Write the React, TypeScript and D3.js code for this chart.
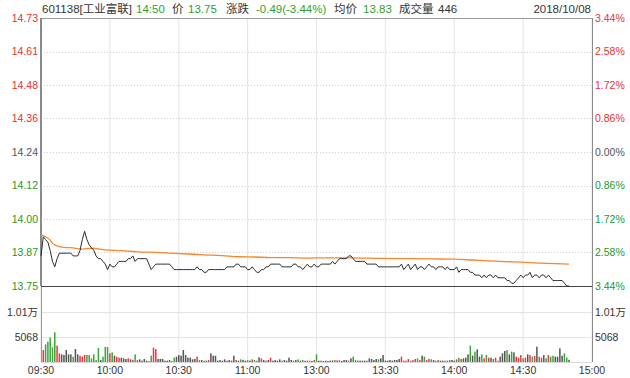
import React from "react";
import * as d3 from "d3";

// ---------- data ----------
const timeLabels = ["09:30", "10:00", "10:30", "11:00", "13:00", "13:30", "14:00", "14:30", "15:00"];
const priceLabels = ["14.73", "14.61", "14.48", "14.36", "14.24", "14.12", "14.00", "13.87", "13.75"];
const pctLabels = ["3.44%", "2.58%", "1.72%", "0.86%", "0.00%", "0.86%", "1.72%", "2.58%", "3.44%"];
const volTickValues = [10136, 5068];
const volTickLabels = ["1.01万", "5068"];
const prevClose = 14.24;
const priceMin = 13.75;
const priceMax = 14.73;

const prices = [
  13.86, 13.93, 13.92, 13.91, 13.88, 13.84, 13.82, 13.85, 13.87, 13.87,
  13.87, 13.87, 13.87, 13.87, 13.86, 13.86, 13.86, 13.88, 13.92, 13.95,
  13.92, 13.90, 13.89, 13.88, 13.86, 13.85, 13.85, 13.84, 13.83, 13.81,
  13.83, 13.82, 13.82, 13.83, 13.84, 13.84, 13.84, 13.84, 13.85, 13.85,
  13.86, 13.84, 13.85, 13.85, 13.85, 13.85, 13.85, 13.83, 13.81, 13.82,
  13.83, 13.83, 13.83, 13.83, 13.83, 13.83, 13.83, 13.82, 13.81, 13.81,
  13.81, 13.81, 13.81, 13.81, 13.81, 13.81, 13.81, 13.81, 13.82, 13.81,
  13.81, 13.80, 13.80, 13.81, 13.81, 13.81, 13.81, 13.81, 13.81, 13.81,
  13.81, 13.82, 13.82, 13.82, 13.82, 13.83, 13.83, 13.82, 13.82, 13.82,
  13.81, 13.81, 13.82, 13.81, 13.80, 13.80, 13.81, 13.81, 13.82, 13.82,
  13.83, 13.83, 13.83, 13.83, 13.83, 13.82, 13.82, 13.82, 13.82, 13.82,
  13.83, 13.83, 13.82, 13.82, 13.81, 13.82, 13.83, 13.82, 13.82, 13.83,
  13.82, 13.82, 13.83, 13.83, 13.83, 13.83, 13.83, 13.84, 13.83, 13.84,
  13.85, 13.85, 13.85, 13.85, 13.86, 13.86, 13.85, 13.84, 13.84, 13.84,
  13.84, 13.84, 13.83, 13.83, 13.83, 13.83, 13.83, 13.82, 13.82, 13.82,
  13.82, 13.82, 13.82, 13.82, 13.82, 13.82, 13.82, 13.83, 13.81, 13.82,
  13.83, 13.81, 13.82, 13.83, 13.81, 13.82, 13.82, 13.81, 13.82, 13.83,
  13.82, 13.82, 13.81, 13.82, 13.82, 13.82, 13.81, 13.82, 13.81, 13.81,
  13.81, 13.82, 13.80, 13.81, 13.81, 13.81, 13.81, 13.80, 13.80, 13.79,
  13.79, 13.79, 13.78, 13.79, 13.78, 13.79, 13.79, 13.78, 13.79, 13.78,
  13.78, 13.78, 13.78, 13.77, 13.77, 13.76, 13.76, 13.77, 13.78, 13.79,
  13.78, 13.79, 13.79, 13.80, 13.78, 13.79, 13.79, 13.78, 13.79, 13.79,
  13.78, 13.79, 13.78, 13.77, 13.77, 13.77, 13.77, 13.77, 13.76, 13.75,
  13.75,
];

const avgMinutes = [0, 2, 4, 5, 7, 10, 13, 18, 22, 28, 35, 42, 50, 57, 64, 71, 79, 86, 93, 100, 108, 116, 125, 134, 148, 158, 170, 180, 188, 195, 202, 209, 217, 224, 230];
const avgValues = [13.937, 13.930, 13.918, 13.906, 13.897, 13.891, 13.890, 13.885, 13.888, 13.882, 13.879, 13.875, 13.873, 13.870, 13.867, 13.864, 13.861, 13.857, 13.856, 13.854, 13.854, 13.852, 13.853, 13.853, 13.851, 13.850, 13.849, 13.848, 13.845, 13.842, 13.839, 13.837, 13.834, 13.832, 13.830];

const volumes = [
  32000, 2430, 3580, 4120, 4930, 2970, 6010, 3310, 1760, 1550,
  1420, 2430, 1550, 1550, 1080, 2630, 1550, 1280, 1080, 1420,
  1420, 1420, 740, 1550, 400, 2840, 400, 1080, 3040, 3040,
  1760, 1960, 1280, 1080, 880, 880, 740, 610, 740, 540,
  400, 1550, 400, 540, 270, 610, 270, 200, 1280, 2900,
  2630, 610, 610, 610, 270, 270, 400, 200, 880, 1080,
  1420, 1280, 2430, 1420, 880, 880, 540, 610, 1080, 400,
  400, 270, 270, 400, 1760, 1280, 1280, 270, 400, 270,
  540, 270, 400, 270, 1280, 400, 270, 540, 400, 270,
  400, 270, 540, 400, 270, 950, 700, 400, 270, 400,
  880, 270, 400, 270, 540, 270, 400, 270, 880, 400,
  270, 400, 540, 270, 400, 270, 270, 270, 200, 400,
  1550, 270, 270, 200, 270, 200, 270, 340, 400, 340,
  340, 200, 400, 400, 270, 740, 1080, 400, 270, 270,
  270, 270, 270, 740, 610, 400, 610, 540, 740, 1420,
  270, 270, 400, 270, 400, 400, 610, 1080, 270, 270,
  610, 270, 400, 610, 740, 400, 1280, 1080, 400, 610,
  540, 400, 270, 400, 270, 270, 270, 270, 400, 400,
  270, 540, 880, 610, 740, 880, 1550, 3310, 1280, 2100,
  2570, 1080, 1550, 740, 1420, 880, 880, 610, 880, 270,
  1080, 1760, 2230, 2430, 1550, 2100, 1960, 1080, 880, 1420,
  740, 880, 1550, 1420, 1080, 1220, 3110, 1080, 880, 1420,
  740, 1420, 1080, 1280, 1080, 1080, 2770, 1280, 1760, 900,
  446,
];

const headerParts = [
  { text: "601138[工业富联]", kind: "dark", x: 42 },
  { text: "14:50", kind: "green", x: 136 },
  { text: "价", kind: "dark", x: 172 },
  { text: "13.75", kind: "green", x: 188 },
  { text: "涨跌", kind: "dark", x: 226 },
  { text: "-0.49(-3.44%)", kind: "green", x: 256 },
  { text: "均价", kind: "dark", x: 334 },
  { text: "13.83", kind: "green", x: 363 },
  { text: "成交量", kind: "dark", x: 399 },
  { text: "446", kind: "dark", x: 438 },
];
const dateLabel = "2018/10/08";

// ---------- styling ----------
const W = 630;
const H = 378;
const L = 41;
const R = 592;
const TOP = 18;
const PB = 286; // price bottom
const VB = 362; // volume bottom
const RED = "#e8302e";
const GREEN = "#23991f";
const GRAY = "#555555";
const DARK = "#333333";
const FONT = "'Liberation Sans', Arial, 'Noto Sans CJK SC', sans-serif";

export default function App() {
  const x = d3.scaleLinear().domain([0, 240]).range([L, R]);
  const y = d3.scaleLinear().domain([priceMin, priceMax]).range([PB, TOP]);
  const tickIdx = d3.scaleLinear().domain([0, priceLabels.length - 1]).range([priceMax, priceMin]);
  const yV = d3.scaleLinear().domain([0, 10136]).range([VB, 312]);

  const priceLine = d3
    .line<number>()
    .x((_, i) => x(i))
    .y((d) => y(d))(prices) as string;
  const avgLine = d3
    .line<number>()
    .x((_, i) => x(avgMinutes[i]))
    .y((d) => y(d))
    .curve(d3.curveMonotoneX)(avgValues) as string;

  const labelColor = (k: number) => (k < 4 ? RED : k === 4 ? GRAY : GREEN);
  const hColor = (k: string) => (k === "green" ? "#2f9e2f" : DARK);

  return (
    <svg
      width={W}
      height={H}
      style={{ position: "absolute", left: 0, top: 0, background: "#fff" }}
      fontFamily={FONT}
    >
      <defs>
        <clipPath id="volclip">
          <rect x={L} y={PB + 1} width={R - L} height={VB - PB - 1} />
        </clipPath>
      </defs>
      <rect x={0} y={0} width={W} height={H} fill="#fff" />

      {/* vertical grid */}
      {timeLabels.map((t, k) => (
        <line key={"vg" + k} x1={x(k * 30)} x2={x(k * 30)} y1={TOP} y2={VB} stroke="#e3e3e3" strokeWidth={1} />
      ))}

      {/* horizontal dotted grid in price panel */}
      {priceLabels.map((_, k) =>
        k > 0 && k < priceLabels.length - 1 ? (
          <line
            key={"hg" + k}
            x1={L}
            x2={R}
            y1={Math.round(y(tickIdx(k))) + 0.5}
            y2={Math.round(y(tickIdx(k))) + 0.5}
            stroke="#cfcfcf"
            strokeDasharray="1,2"
          />
        ) : null
      )}

      {/* volume grid */}
      {volTickValues.map((v, k) => (
        <line key={"vgl" + k} x1={L} x2={R} y1={Math.round(yV(v)) + 0.5} y2={Math.round(yV(v)) + 0.5} stroke="#e3e3e3" />
      ))}
      <line x1={L} x2={R} y1={VB + 0.5} y2={VB + 0.5} stroke="#d8d8d8" />

      {/* borders */}
      <line x1={L} x2={R} y1={TOP + 0.5} y2={TOP + 0.5} stroke="#9a9a9a" />
      <line x1={R + 0.5} x2={R + 0.5} y1={TOP} y2={VB} stroke="#8a8a8a" />

      {/* volume bars */}
      <g clipPath="url(#volclip)">
        {volumes.map((v, i) => {
          const prev = i === 0 ? prevClose : prices[i - 1];
          const c = prices[i] > prev ? "#f0353a" : prices[i] < prev ? "#3aa53a" : "#555555";
          const top = yV(v);
          return <rect key={"vb" + i} x={x(i) - 0.75} y={top} width={1.5} height={VB - top} fill={c} />;
        })}
      </g>

      <line x1={L} x2={R} y1={PB + 0.5} y2={PB + 0.5} stroke="#444" />
      <line x1={L} x2={L} y1={TOP} y2={PB} stroke="#8a8a8a" strokeWidth={2} />

      {/* avg + price lines */}
      <path d={avgLine} fill="none" stroke="#f7862c" strokeWidth={1.3} />
      <path d={priceLine} fill="none" stroke="#2b2b2b" strokeWidth={1} />

      {/* left/right price labels */}
      {priceLabels.map((t, k) => (
        <text
          key={"pl" + k}
          x={38}
          y={y(tickIdx(k))}
          dy="0.35em"
          textAnchor="end"
          fontSize={10.5}
          fill={labelColor(k)}
        >
          {t}
        </text>
      ))}
      {pctLabels.map((t, k) => (
        <text key={"pr" + k} x={595} y={y(tickIdx(k))} dy="0.35em" fontSize={10.5} fill={labelColor(k)}>
          {t}
        </text>
      ))}

      {/* volume labels */}
      {volTickValues.map((v, k) => (
        <g key={"vl" + k}>
          <text x={38} y={yV(v)} dy="0.35em" textAnchor="end" fontSize={10.5} fill={DARK}>
            {volTickLabels[k]}
          </text>
          <text x={595} y={yV(v)} dy="0.35em" fontSize={10.5} fill={DARK}>
            {volTickLabels[k]}
          </text>
        </g>
      ))}

      {/* time labels */}
      {timeLabels.map((t, k) => (
        <text key={"tl" + k} x={x(k * 30)} y={374} textAnchor="middle" fontSize={10.5} fill={DARK}>
          {t}
        </text>
      ))}

      {/* header */}
      {headerParts.map((p, k) => (
        <text key={"h" + k} x={p.x} y={13} fontSize={11.5} fill={hColor(p.kind)}>
          {p.text}
        </text>
      ))}
      <text x={591} y={13} textAnchor="end" fontSize={11.5} fill={DARK}>
        {dateLabel}
      </text>
    </svg>
  );
}
